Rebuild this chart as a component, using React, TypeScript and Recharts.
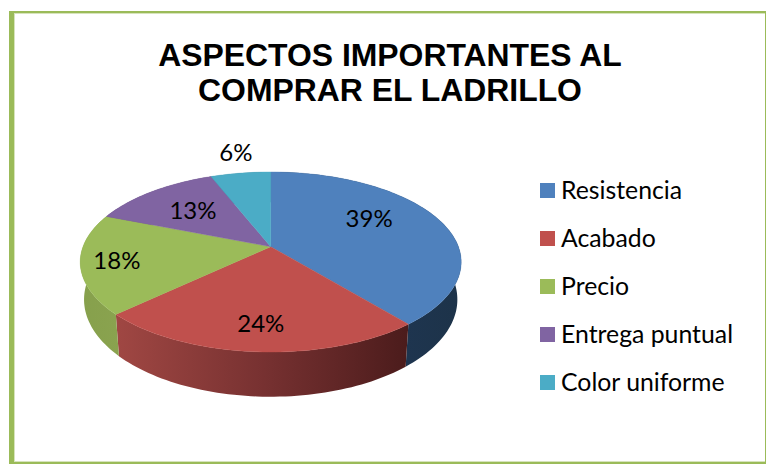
import React from "react";
import { PieChart, Pie, Legend } from "recharts";

const categories = ["Resistencia", "Acabado", "Precio", "Entrega puntual", "Color uniforme"];
const shares = [39, 24, 18, 13, 6];
const topColors = ["#4f81bd", "#c0504d", "#9bbb59", "#8064a2", "#4bacc6"];
const wallIds = ["wall0", "wall1", "wall2", "wall3", "wall4"];
const labelNudgeX = [-4, -2, -41, -3.5, -15.6];
const labelNudgeY = [-12, 17.5, 2.5, -3, -48.5];

const topRows = categories.map((name, i) => ({ name, value: shares[i], fill: topColors[i] }));
const wallRows = categories.map((name, i) => ({ name, value: shares[i], fill: `url(#${wallIds[i]})` }));

const W = 766;
const H = 464;
const CX = 270.7;
const CY = 246.7;
const R = 187.7;
const SQUASH = 87.4 / 187.7;
const PERSPECTIVE = 0.17;
const RAD = Math.PI / 180;

type Pt = [number, number];

function project(cx: number, cy: number, radius: number, deg: number, frac = 1): Pt {
  const u = Math.cos(deg * RAD) * frac;
  const v = -Math.sin(deg * RAD) * frac;
  const w = 1 - PERSPECTIVE * v;
  return [cx + (radius * u) / w, cy + (radius * SQUASH * v) / w];
}

function lower(p: Pt, cx: number, cy: number): Pt {
  return [cx + (p[0] - cx) * 0.98, cy + 36.3 + (p[1] - cy) * 1.08];
}

function arc(cx: number, cy: number, radius: number, a0: number, a1: number): Pt[] {
  const n = Math.max(2, Math.ceil(Math.abs(a1 - a0) / 1.5));
  const pts: Pt[] = [];
  for (let i = 0; i <= n; i++) pts.push(project(cx, cy, radius, a0 + ((a1 - a0) * i) / n));
  return pts;
}

const toPath = (pts: Pt[]) =>
  pts.map((p, i) => `${i ? "L" : "M"}${p[0].toFixed(2)},${p[1].toFixed(2)}`).join("") + "Z";

function TopSlice(props: any) {
  const { cx, cy, outerRadius, startAngle, endAngle, fill } = props;
  const pts = [[cx, cy] as Pt, ...arc(cx, cy, outerRadius, startAngle, endAngle)];
  return <path d={toPath(pts)} fill={fill} stroke={fill} strokeWidth={0.4} />;
}

function WallSlice(props: any) {
  const { cx, cy, outerRadius, startAngle, endAngle, fill } = props;
  const top = arc(cx, cy, outerRadius, startAngle, endAngle);
  const bottom = top.map((p) => lower(p, cx, cy)).reverse();
  return <path d={toPath([...top, ...bottom])} fill={fill} stroke="none" />;
}

function SliceLabel(props: any) {
  const { cx, cy, outerRadius, midAngle, index, value } = props;
  const [x, y] = project(cx, cy, outerRadius, midAngle, 0.6);
  return (
    <text
      x={x + labelNudgeX[index]}
      y={y + labelNudgeY[index]}
      textAnchor="middle"
      dominantBaseline="central"
      fontFamily="Lato"
      fontSize={24}
      fill="#000"
    >
      {value}%
    </text>
  );
}

function LegendList(props: any) {
  const items = (props.payload || []).filter((it: any) => it.type !== "none");
  return (
    <ul style={{ listStyle: "none", margin: 0, padding: 0, fontFamily: "Lato", fontSize: 24.8, color: "#000" }}>
      {items.map((it: any) => (
        <li key={it.value} style={{ height: 48, display: "flex", alignItems: "center", whiteSpace: "nowrap" }}>
          <span style={{ width: 15, height: 15, background: it.color, marginRight: 6, display: "inline-block" }} />
          <span style={{ position: "relative", top: -1 }}>{it.value}</span>
        </li>
      ))}
    </ul>
  );
}

export default function App() {
  return (
    <div style={{ position: "absolute", left: 0, top: 0, width: W, height: H, background: "#fff", overflow: "hidden" }}>
      <div
        style={{
          position: "absolute",
          left: 9,
          top: 11,
          width: W - 9,
          height: H - 11,
          boxSizing: "border-box",
          borderStyle: "solid",
          borderColor: "#9bbb59",
          borderWidth: "2px 1px 2px 5px",
        }}
      >
        <div style={{ position: "absolute", inset: 0, border: "1px solid #d7e4bc", borderRightWidth: 0 }} />
      </div>
      <div style={{ position: "absolute", left: 0, top: 0 }}>
        <PieChart width={W} height={H} margin={{ top: 0, right: 0, bottom: 0, left: 0 }}>
          <defs>
            <linearGradient id="wall0" gradientUnits="userSpaceOnUse" x1="400" y1="0" x2="460" y2="0">
              <stop offset="0" stopColor="#1e3550" />
              <stop offset="1" stopColor="#1d3349" />
            </linearGradient>
            <linearGradient id="wall1" gradientUnits="userSpaceOnUse" x1="116" y1="0" x2="412" y2="0">
              <stop offset="0" stopColor="#a04743" />
              <stop offset="0.5" stopColor="#773131" />
              <stop offset="1" stopColor="#4a1b1b" />
            </linearGradient>
            <linearGradient id="wall2" gradientUnits="userSpaceOnUse" x1="79" y1="0" x2="120" y2="0">
              <stop offset="0" stopColor="#86a04c" />
              <stop offset="1" stopColor="#8aa34f" />
            </linearGradient>
            <linearGradient id="wall3" gradientUnits="userSpaceOnUse" x1="0" y1="0" x2="1" y2="0">
              <stop offset="0" stopColor="#5f4a7a" />
            </linearGradient>
            <linearGradient id="wall4" gradientUnits="userSpaceOnUse" x1="0" y1="0" x2="1" y2="0">
              <stop offset="0" stopColor="#367f93" />
            </linearGradient>
          </defs>
          <text x={390} y={66} textAnchor="middle" fontFamily="Liberation Sans" fontWeight="bold" fontSize={31.9} fill="#000">
            ASPECTOS IMPORTANTES AL
          </text>
          <text x={390} y={101} textAnchor="middle" fontFamily="Liberation Sans" fontWeight="bold" fontSize={31.9} fill="#000">
            COMPRAR EL LADRILLO
          </text>
          <Pie
            data={wallRows}
            dataKey="value"
            nameKey="name"
            cx={CX}
            cy={CY}
            outerRadius={R}
            startAngle={90}
            endAngle={-270}
            stroke="none"
            legendType="none"
            label={false}
            labelLine={false}
            shape={WallSlice}
            isAnimationActive={false}
          />
          <Pie
            data={topRows}
            dataKey="value"
            nameKey="name"
            cx={CX}
            cy={CY}
            outerRadius={R}
            startAngle={90}
            endAngle={-270}
            stroke="none"
            label={SliceLabel}
            labelLine={false}
            shape={TopSlice}
            isAnimationActive={false}
          />
          <Legend
            layout="vertical"
            align="right"
            verticalAlign="top"
            itemSorter={null}
            wrapperStyle={{ left: 540, right: "auto", top: 166, width: 225 }}
            content={LegendList}
          />
        </PieChart>
      </div>
    </div>
  );
}
